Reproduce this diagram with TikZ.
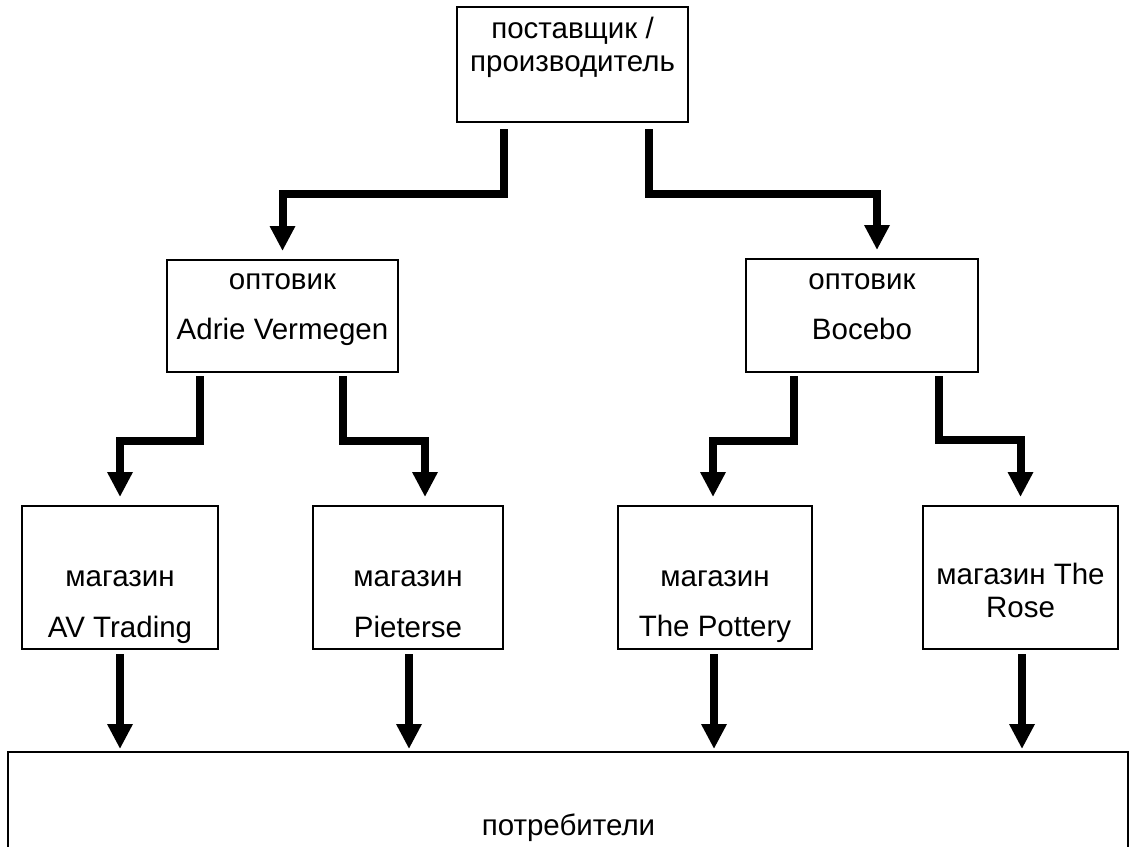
\documentclass[tikz,border=0pt]{standalone}
\usepackage{fontspec}
\setmainfont{Liberation Sans}
\usetikzlibrary{arrows.meta}
\begin{document}
\begin{tikzpicture}[x=1pt,y=-1pt,
  box/.style={draw=black, line width=2pt, inner sep=0pt, rectangle},
  txt/.style={anchor=base, inner sep=0pt, font=\fontsize{29.5}{35}\selectfont},
  conn/.style={draw=black, line width=8pt, line join=miter,
    -{Triangle[width=24pt,length=25pt]}}]
\useasboundingbox[fill=white] (0,0) rectangle (1135,846);
% boxes
\node[box, minimum width=231pt, minimum height=115pt] (sup) at (572.5,64.5) {};
\node[box, minimum width=231pt, minimum height=112pt] (wl) at (282.5,316) {};
\node[box, minimum width=232pt, minimum height=113pt] (wr) at (862,315.5) {};
\node[box, minimum width=196pt, minimum height=143pt] (s1) at (120,577.5) {};
\node[box, minimum width=190pt, minimum height=143pt] (s2) at (408,577.5) {};
\node[box, minimum width=194pt, minimum height=143pt] (s3) at (715,577.5) {};
\node[box, minimum width=195pt, minimum height=143pt] (s4) at (1020.5,577.5) {};
\node[box, minimum width=1120pt, minimum height=118pt] (cons) at (568,811) {};
% texts
\node[txt] (supa) at (572.5,38) {поставщик /};
\node[txt] (supb) at (572.5,71) {производитель};
\node[txt] (wla) at (282.5,289) {оптовик};
\node[txt] (wlb) at (282.5,339) {Adrie Vermegen};
\node[txt] (wra) at (862,289) {оптовик};
\node[txt] (wrb) at (862,339) {Bocebo};
\node[txt] (s1a) at (120,586) {магазин};
\node[txt] (s1b) at (120,637) {AV Trading};
\node[txt] (s2a) at (408,586) {магазин};
\node[txt] (s2b) at (408,637) {Pieterse};
\node[txt] (s3a) at (715,586) {магазин};
\node[txt] (s3b) at (715,636) {The Pottery};
\node[txt] (s4a) at (1020.5,584) {магазин The};
\node[txt] (s4b) at (1020.5,617) {Rose};
\node[txt] (consa) at (568.5,835) {потребители};
% connectors
\draw[conn] ([xshift=-68.5pt,yshift=-6pt]sup.south) -- ++(0,65) -| ([yshift=8pt]wl.north);
\draw[conn] ([xshift=76.5pt,yshift=-6pt]sup.south) -- ++(0,65) -| ([xshift=15pt,yshift=8pt]wr.north);
\draw[conn] ([xshift=-82.5pt,yshift=-3pt]wl.south) -- ++(0,65) -| ([yshift=8pt]s1.north);
\draw[conn] ([xshift=60.5pt,yshift=-3pt]wl.south) -- ++(0,65) -| ([xshift=17pt,yshift=8pt]s2.north);
\draw[conn] ([xshift=-68pt,yshift=-3pt]wr.south) -- ++(0,65) -| ([xshift=-2pt,yshift=8pt]s3.north);
\draw[conn] ([xshift=77pt,yshift=-3pt]wr.south) -- ++(0,64) -| ([yshift=8pt]s4.north);
\draw[conn] ([yshift=-4pt]s1.south) -- ([yshift=2pt]s1.south |- cons.north);
\draw[conn] ([xshift=1pt,yshift=-4pt]s2.south) -- ([xshift=1pt,yshift=2pt]s2.south |- cons.north);
\draw[conn] ([xshift=-1pt,yshift=-4pt]s3.south) -- ([xshift=-1pt,yshift=2pt]s3.south |- cons.north);
\draw[conn] ([xshift=1.5pt,yshift=-4pt]s4.south) -- ([xshift=1.5pt,yshift=2pt]s4.south |- cons.north);
\end{tikzpicture}
\end{document}
